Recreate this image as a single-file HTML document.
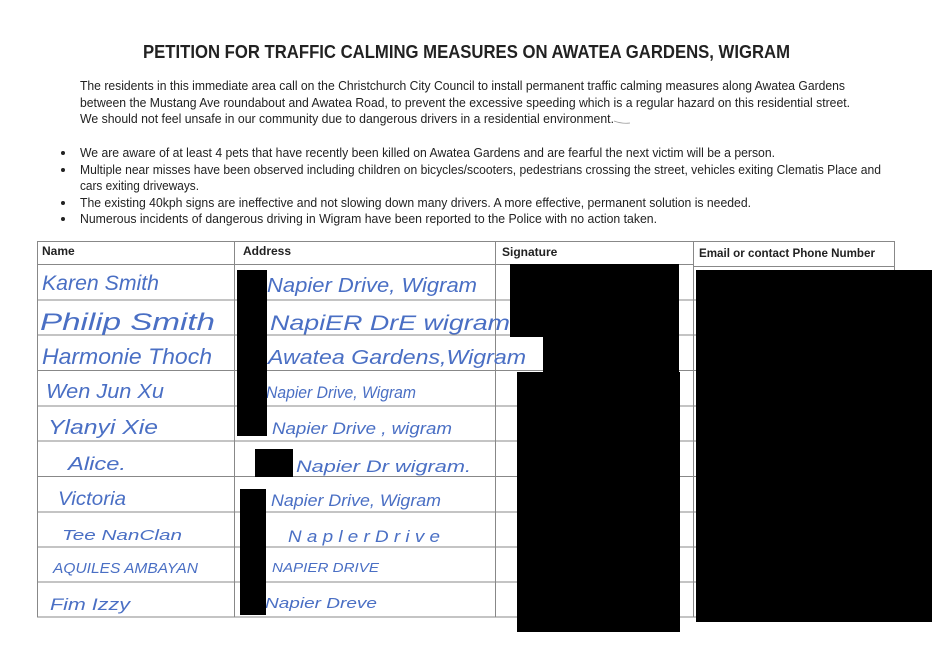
<!DOCTYPE html>
<html><head><meta charset="utf-8"><style>
html,body{margin:0;padding:0;background:#fff;}
svg{display:block;}
.t{font-family:"Liberation Sans",sans-serif;fill:#222;}
.h{font-family:"Liberation Sans",sans-serif;fill:#4a6fc4;font-style:italic;}
</style></head><body>
<svg width="934" height="661" viewBox="0 0 934 661" xmlns="http://www.w3.org/2000/svg">
<rect width="934" height="661" fill="#fff"/>
<text class="t" x="143" y="58" font-size="18" font-weight="bold" textLength="647" lengthAdjust="spacingAndGlyphs">PETITION FOR TRAFFIC CALMING MEASURES ON AWATEA GARDENS, WIGRAM</text>
<g class="t" font-size="12.5">
<text x="80" y="90" textLength="765" lengthAdjust="spacingAndGlyphs">The residents in this immediate area call on the Christchurch City Council to install permanent traffic calming measures along Awatea Gardens</text>
<text x="80" y="107" textLength="770" lengthAdjust="spacingAndGlyphs">between the Mustang Ave roundabout and Awatea Road, to prevent the excessive speeding which is a regular hazard on this residential street.</text>
<text x="80" y="123" textLength="534" lengthAdjust="spacingAndGlyphs">We should not feel unsafe in our community due to dangerous drivers in a residential environment.</text>
<text x="80" y="157" textLength="695" lengthAdjust="spacingAndGlyphs">We are aware of at least 4 pets that have recently been killed on Awatea Gardens and are fearful the next victim will be a person.</text>
<text x="80" y="174" textLength="801" lengthAdjust="spacingAndGlyphs">Multiple near misses have been observed including children on bicycles/scooters, pedestrians crossing the street, vehicles exiting Clematis Place and</text>
<text x="80" y="190" textLength="119" lengthAdjust="spacingAndGlyphs">cars exiting driveways.</text>
<text x="80" y="207" textLength="671" lengthAdjust="spacingAndGlyphs">The existing 40kph signs are ineffective and not slowing down many drivers. A more effective, permanent solution is needed.</text>
<text x="80" y="223" textLength="577" lengthAdjust="spacingAndGlyphs">Numerous incidents of dangerous driving in Wigram have been reported to the Police with no action taken.</text>
</g>
<g fill="#222"><circle cx="63" cy="153" r="2"/><circle cx="63" cy="170" r="2"/><circle cx="63" cy="203" r="2"/><circle cx="63" cy="219" r="2"/></g>
<path d="M614 121 q8 3 16 2" stroke="#999" fill="none" stroke-width="0.8"/>
<g stroke="#888" stroke-width="1" fill="none">
<rect x="37.5" y="241.5" width="857" height="375.5"/>
<line x1="234.5" y1="242" x2="234.5" y2="617"/>
<line x1="495.5" y1="242" x2="495.5" y2="617"/>
<line x1="693.5" y1="242" x2="693.5" y2="617"/>
<line x1="38" y1="264.5" x2="693" y2="264.5"/>
<line x1="693" y1="266.5" x2="895" y2="266.5"/>
<line x1="38" y1="300" x2="895" y2="300"/>
<line x1="38" y1="335" x2="895" y2="335"/>
<line x1="38" y1="370.5" x2="895" y2="370.5"/>
<line x1="38" y1="406" x2="895" y2="406"/>
<line x1="38" y1="441" x2="895" y2="441"/>
<line x1="38" y1="476.5" x2="895" y2="476.5"/>
<line x1="38" y1="512" x2="895" y2="512"/>
<line x1="38" y1="547" x2="895" y2="547"/>
<line x1="38" y1="582" x2="895" y2="582"/>
</g>
<g class="t" font-size="12" font-weight="bold" fill="#333">
<text x="42" y="255">Name</text>
<text x="243" y="255">Address</text>
<text x="502" y="256">Signature</text>
<text x="699" y="257" textLength="176" lengthAdjust="spacingAndGlyphs">Email or contact Phone Number</text>
</g>
<g class="h">
<text x="42" y="290" font-size="21" textLength="117" lengthAdjust="spacingAndGlyphs">Karen Smith</text>
<text x="40" y="330" font-size="24" textLength="175" lengthAdjust="spacingAndGlyphs">Philip Smith</text>
<text x="42" y="364" font-size="22" textLength="170" lengthAdjust="spacingAndGlyphs">Harmonie Thoch</text>
<text x="46" y="398" font-size="20" textLength="118" lengthAdjust="spacingAndGlyphs">Wen Jun Xu</text>
<text x="48" y="434" font-size="20" textLength="110" lengthAdjust="spacingAndGlyphs">Ylanyi Xie</text>
<text x="68" y="470" font-size="18" textLength="58" lengthAdjust="spacingAndGlyphs">Alice.</text>
<text x="58" y="505" font-size="19" textLength="68" lengthAdjust="spacingAndGlyphs">Victoria</text>
<text x="62" y="540" font-size="15" textLength="120" lengthAdjust="spacingAndGlyphs">Tee  NanClan</text>
<text x="53" y="573" font-size="15" textLength="145" lengthAdjust="spacingAndGlyphs">AQUILES  AMBAYAN</text>
<text x="50" y="610" font-size="17" textLength="80" lengthAdjust="spacingAndGlyphs">Fim   Izzy</text>
<text x="267" y="292" font-size="20" textLength="210" lengthAdjust="spacingAndGlyphs">Napier Drive, Wigram</text>
<text x="270" y="330" font-size="21" textLength="240" lengthAdjust="spacingAndGlyphs">NapiER DrE wigram</text>
<text x="268" y="364" font-size="20" textLength="258" lengthAdjust="spacingAndGlyphs">Awatea Gardens,Wigram</text>
<text x="266" y="398" font-size="17" textLength="150" lengthAdjust="spacingAndGlyphs">Napier Drive, Wigram</text>
<text x="272" y="434" font-size="17" textLength="180" lengthAdjust="spacingAndGlyphs">Napier Drive , wigram</text>
<text x="296" y="472" font-size="17" textLength="175" lengthAdjust="spacingAndGlyphs">Napier Dr wigram.</text>
<text x="271" y="506" font-size="17" textLength="170" lengthAdjust="spacingAndGlyphs">Napier Drive, Wigram</text>
<text x="288" y="542" font-size="17" textLength="152" lengthAdjust="spacingAndGlyphs">N a p l e r   D r i v e</text>
<text x="272" y="572" font-size="13" textLength="107" lengthAdjust="spacingAndGlyphs">NAPIER  DRIVE</text>
<text x="265" y="608" font-size="15" textLength="112" lengthAdjust="spacingAndGlyphs">Napier   Dreve</text>
</g>
<g fill="#000">
<rect x="237" y="270" width="30" height="166"/>
<rect x="255" y="449" width="38" height="28"/>
<rect x="240" y="489" width="26" height="126"/>
<rect x="510" y="264" width="169" height="73"/>
<rect x="543" y="336" width="136" height="37"/>
<rect x="517" y="372" width="163" height="260"/>
<rect x="696" y="270" width="236" height="352"/>
</g>
</svg>
</body></html>
